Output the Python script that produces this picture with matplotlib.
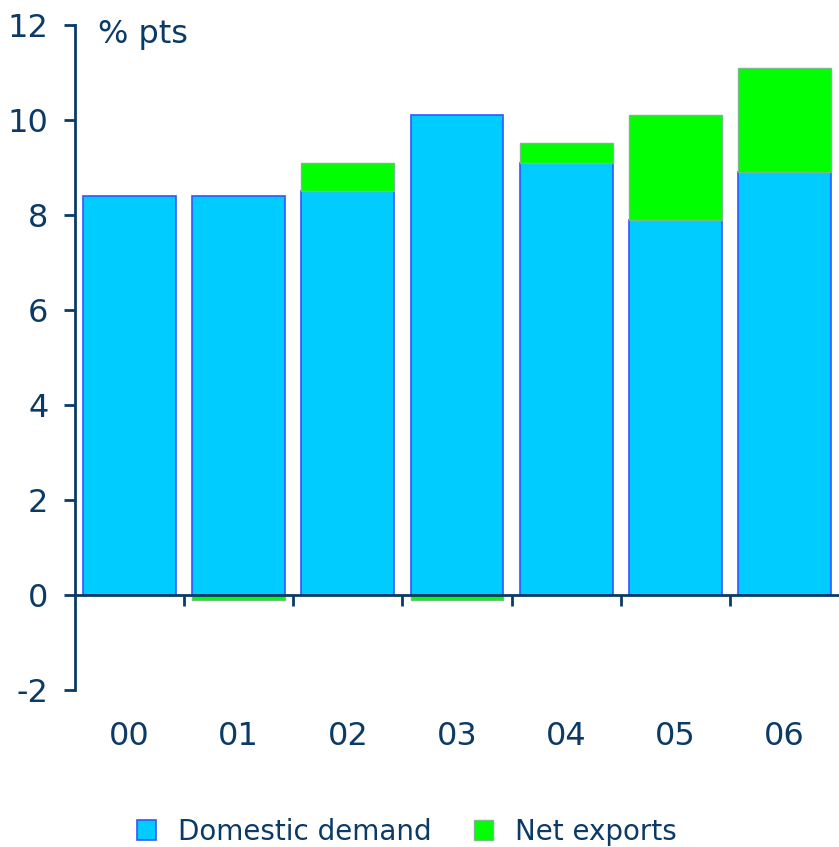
import matplotlib.pyplot as plt
import numpy as np

years = ['00', '01', '02', '03', '04', '05', '06']
domestic = [8.4, 8.4, 8.5, 10.1, 9.1, 7.9, 8.9]
net_exports = [0.0, -0.1, 0.6, -0.1, 0.42, 2.2, 2.2]

navy = '#0b3a66'
plt.rcParams['font.family'] = ['DejaVu Sans']

fig = plt.figure(figsize=(8.39, 8.47), dpi=100)
ax = fig.add_axes([0.0894, 0.1854, 0.9106, 0.7851])

x = np.arange(len(years))
dom = np.array(domestic)
net = np.array(net_exports)
net_bottom = np.where(net >= 0, dom, 0)
nz = net != 0

ax.bar(x, dom, width=0.85, color='#00ccff', edgecolor='#3355ff', linewidth=1.2,
       label='Domestic demand', zorder=2)
ax.bar(x[nz], net[nz], bottom=net_bottom[nz], width=0.85, color='#00ff00',
       edgecolor='#77bb88', linewidth=1.0, label='Net exports', zorder=2)

ax.set_xlim(-0.5, 6.5)
ax.set_ylim(-2, 12)
ax.set_yticks(range(-2, 13, 2))
ax.set_yticklabels([str(v) for v in range(-2, 13, 2)])

# ticks at category boundaries, labels centred
ax.set_xticks(np.arange(0.5, 6.0, 1.0))
ax.set_xticklabels([])
ax.set_xticks(x, minor=True)
ax.set_xticklabels(years, minor=True)
ax.tick_params(axis='x', which='minor', length=0, pad=91, labelsize=23, colors=navy)
ax.tick_params(axis='x', which='major', length=8, width=2, direction='out', colors=navy)
ax.tick_params(axis='y', length=8, width=2, direction='out', labelsize=23, colors=navy, pad=11)

for s in ['top', 'right']:
    ax.spines[s].set_visible(False)
ax.spines['bottom'].set_position(('data', 0))
ax.spines['bottom'].set_color(navy)
ax.spines['bottom'].set_linewidth(2)
ax.spines['left'].set_color(navy)
ax.spines['left'].set_linewidth(2)
ax.spines['bottom'].set_zorder(3)

ax.text(0.03, 0.985, '% pts', transform=ax.transAxes, fontsize=23, color=navy,
        va='center', ha='left')

fig.legend(loc='center', bbox_to_anchor=(0.485, 0.018), ncol=2, frameon=False,
           fontsize=20, labelcolor=navy, handlelength=0.7, handleheight=0.7,
           columnspacing=1.5, handletextpad=0.8)

fig.savefig('out.png', dpi=100)
